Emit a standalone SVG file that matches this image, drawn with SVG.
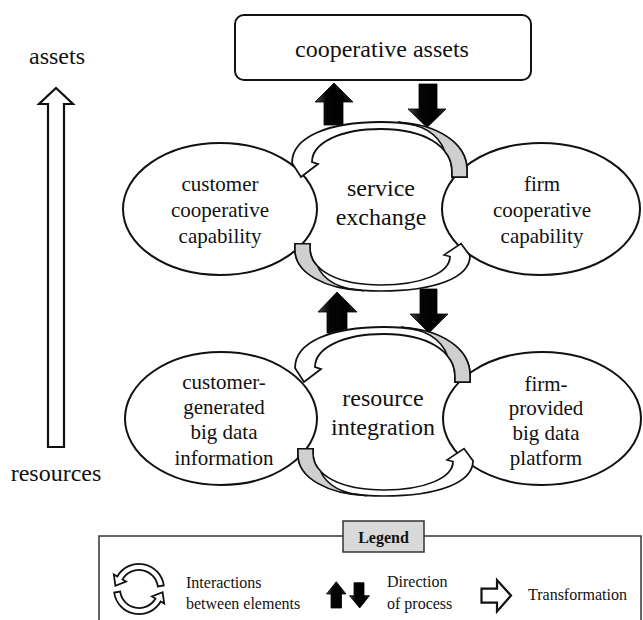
<svg xmlns="http://www.w3.org/2000/svg" xmlns:xlink="http://www.w3.org/1999/xlink" width="643" height="620" viewBox="0 0 643 620">
  <defs>
    <style>
      .txt { font-family: "Liberation Serif", "Times New Roman", serif; fill: #111; text-anchor: middle; }
      .big { font-size: 24px; }
      .mid { font-size: 21px; }
      .leg { font-family: "Liberation Serif", "Times New Roman", serif; font-size: 16px; fill: #111; }
      .node { fill: #fff; stroke: #111; stroke-width: 2; }
      .band { fill: #fff; stroke: #111; stroke-width: 1.8; stroke-linejoin: miter; }
      .shade { fill: #cfcfcf; stroke: #111; stroke-width: 1.6; }
      .hollow { fill: #fff; stroke: #111; stroke-width: 2.2; stroke-linejoin: miter; }
      .solid { fill: url(#blk); stroke: #000; stroke-width: 0.8; }
    </style>
    <linearGradient id="blk" x1="0" y1="0" x2="1" y2="0">
      <stop offset="0" stop-color="#4a4a4a"/>
      <stop offset="0.3" stop-color="#050505"/>
      <stop offset="0.75" stop-color="#000"/>
      <stop offset="1" stop-color="#2a2a2a"/>
    </linearGradient>
    <!-- half of an interaction cycle: ribbon with shaded tail and arrow head -->
    <g id="half-cycle">
      <path class="band" d="M -89,-9 C -89,-35 -53,-50 0,-50 C 52,-50 86,-31 86,-2 L 86,5 L 71,5 L 71,0 C 71,-26 43,-43 0,-43 C -41,-43 -69,-29 -69,-10 L -63,-8 L -80,5 Z"/>
      <path class="shade" d="M 17,-49.7 C 56,-48 86,-29 86,-2 L 86,5 L 71,5 L 71,0 C 71,-9 68,-16 63.7,-20.7 Q 54,-47 17,-49.7 Z"/>
    </g>
    <!-- small legend version of the cycle -->
    <path id="legend-half" class="hollow" style="stroke-width:1.8" d="M 117.3,576.5 A 25 25 0 0 1 163.8,585.5 L 157.8,586.4 A 19 19 0 0 0 122.5,579.5 L 126,581.5 L 115.4,585.8 L 113.8,574.5 Z"/>
  </defs>

  <rect width="643" height="620" fill="#fff"/>

  <!-- vertical axis: resources to assets -->
  <g id="axis">
    <path class="hollow" d="M 48,447 L 48,104 L 39,104 L 56,88 L 73,104 L 64,104 L 64,447 Z"/>
    <text class="txt big" x="57" y="64">assets</text>
    <text class="txt big" x="56" y="481">resources</text>
  </g>

  <!-- top outcome box -->
  <g id="cooperative-assets">
    <rect class="node" x="235" y="15" width="296" height="65" rx="9"/>
    <text class="txt big" x="382" y="57">cooperative assets</text>
  </g>

  <!-- direction of process arrows -->
  <g id="process-arrows">
    <path class="solid" d="M 324,125 L 324,102 L 315,102 L 334,83 L 353,102 L 343,102 L 343,125 Z"/>
    <path class="solid" d="M 419,84 L 437,84 L 437,109 L 446,109 L 427,127.5 L 408,109 L 419,109 Z"/>
    <path class="solid" d="M 327,333 L 327,312 L 318,312 L 337,292 L 357,312 L 347,312 L 347,333 Z"/>
    <path class="solid" d="M 420,289 L 437,289 L 437,314 L 448,314 L 429,333 L 410,314 L 420,314 Z"/>
  </g>

  <!-- upper level -->
  <g id="customer-cooperative-capability">
    <ellipse class="node" cx="220" cy="209" rx="97" ry="66"/>
    <text class="txt mid" x="220" y="191">customer</text>
    <text class="txt mid" x="220" y="217">cooperative</text>
    <text class="txt mid" x="220" y="243">capability</text>
  </g>
  <g id="firm-cooperative-capability">
    <ellipse class="node" cx="541" cy="209" rx="99" ry="66"/>
    <text class="txt mid" x="542" y="191">firm</text>
    <text class="txt mid" x="542" y="217">cooperative</text>
    <text class="txt mid" x="542" y="243">capability</text>
  </g>
  <g id="service-exchange">
    <text class="txt big" x="381" y="196">service</text>
    <text class="txt big" x="381" y="225">exchange</text>
  </g>

  <!-- lower level -->
  <g id="customer-generated-data">
    <ellipse class="node" cx="221" cy="418.5" rx="96" ry="66.5"/>
    <text class="txt mid" x="224" y="389">customer-</text>
    <text class="txt mid" x="224" y="414">generated</text>
    <text class="txt mid" x="224" y="439">big data</text>
    <text class="txt mid" x="224" y="465">information</text>
  </g>
  <g id="firm-provided-platform">
    <ellipse class="node" cx="542" cy="418.5" rx="99" ry="66.5"/>
    <text class="txt mid" x="546" y="391">firm-</text>
    <text class="txt mid" x="546" y="415">provided</text>
    <text class="txt mid" x="546" y="440">big data</text>
    <text class="txt mid" x="546" y="465">platform</text>
  </g>
  <g id="resource-integration">
    <text class="txt big" x="383" y="406">resource</text>
    <text class="txt big" x="383" y="435">integration</text>
  </g>

  <!-- interaction cycles between elements -->
  <g id="connectors">
    <use xlink:href="#half-cycle" href="#half-cycle" transform="translate(381,172)"/>
    <use xlink:href="#half-cycle" href="#half-cycle" transform="translate(381,248) rotate(180) scale(1,0.86)"/>
    <use xlink:href="#half-cycle" href="#half-cycle" transform="translate(384,377)"/>
    <use xlink:href="#half-cycle" href="#half-cycle" transform="translate(384,453) rotate(180) scale(1,0.86)"/>
  </g>

  <!-- legend -->
  <g id="legend">
    <rect x="99" y="536" width="542" height="120" fill="none" stroke="#333" stroke-width="1.5"/>
    <rect x="343" y="521" width="81" height="31" fill="#d9d9d9" stroke="#333" stroke-width="1.5"/>
    <text x="383.5" y="543" style="font-family:'Liberation Serif','Times New Roman',serif;font-size:16px;font-weight:bold;fill:#111;text-anchor:middle">Legend</text>

    <use xlink:href="#legend-half" href="#legend-half"/>
    <use xlink:href="#legend-half" href="#legend-half" transform="rotate(180 139 589)"/>
    <text class="leg" x="186" y="588">Interactions</text>
    <text class="leg" x="186" y="609">between elements</text>

    <path class="solid" d="M 331,608 L 331,594 L 326.5,594 L 336.3,581.7 L 346,594 L 341.5,594 L 341.5,608 Z"/>
    <path class="solid" d="M 354,582.7 L 364,582.7 L 364,595.7 L 369.5,595.7 L 359.7,608 L 349.5,595.7 L 354,595.7 Z"/>
    <text class="leg" x="387" y="587">Direction</text>
    <text class="leg" x="387" y="609">of process</text>

    <path class="hollow" d="M 481.5,588.7 L 497,588.7 L 497,580 L 511,595.6 L 497,611.4 L 497,602.7 L 481.5,602.7 Z"/>
    <text class="leg" x="528" y="600">Transformation</text>
  </g>
</svg>
